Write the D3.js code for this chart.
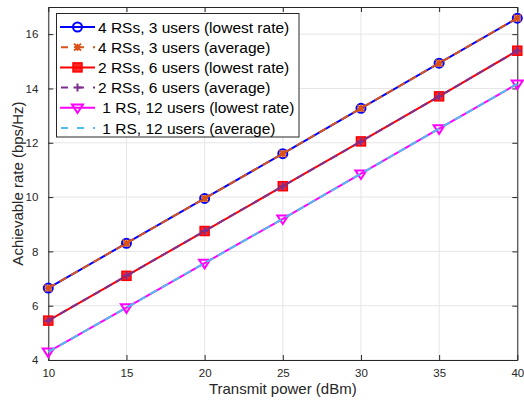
<!DOCTYPE html>
<html>
<head>
<meta charset="utf-8">
<script src="https://cdn.jsdelivr.net/npm/d3@7"></script>
<style>
  html, body { margin: 0; padding: 0; background: #fff; }
  svg { display: block; font-family: "Liberation Sans", Arial, sans-serif; }
</style>
</head>
<body>
<div id="chart"></div>
<script>
// data
const powers = [10, 15, 20, 25, 30, 35, 40];
const rs4Lowest = [6.65, 8.30, 9.95, 11.60, 13.27, 14.93, 16.59];
const rs4Average = [6.65, 8.30, 9.95, 11.60, 13.27, 14.93, 16.59];
const rs2Lowest = [5.45, 7.10, 8.75, 10.40, 12.05, 13.71, 15.39];
const rs2Average = [5.45, 7.10, 8.75, 10.40, 12.05, 13.71, 15.39];
const rs1Lowest = [4.30, 5.93, 7.57, 9.20, 10.86, 12.52, 14.17];
const rs1Average = [4.30, 5.93, 7.57, 9.20, 10.86, 12.52, 14.17];
const seriesNames = [
    "4 RSs, 3 users (lowest rate)",
    "4 RSs, 3 users (average)",
    "2 RSs, 6 users (lowest rate)",
    "2 RSs, 6 users (average)",
    " 1 RS, 12 users (lowest rate)",
    " 1 RS, 12 users (average)"
];
const xTicks = [10, 15, 20, 25, 30, 35, 40];
const yTicks = [4, 6, 8, 10, 12, 14, 16];

const series = [
    { name: seriesNames[0], values: rs4Lowest, color: "#0000ff", dash: null, marker: "circle" },
    { name: seriesNames[1], values: rs4Average, color: "#d95319", dash: "8,5", marker: "asterisk" },
    { name: seriesNames[2], values: rs2Lowest, color: "#ff0000", dash: null, marker: "square" },
    { name: seriesNames[3], values: rs2Average, color: "#7e2f8e", dash: "8,5", marker: "plus" },
    { name: seriesNames[4], values: rs1Lowest, color: "#ff00ff", dash: null, marker: "triangle" },
    { name: seriesNames[5], values: rs1Average, color: "#4dbeee", dash: "8,5", marker: null }
];

const width = 524, height = 403;
const margin = { top: 7, right: 6.7, bottom: 43, left: 48.3 };
const axisColor = "#262626";

const svg = d3.select("#chart").append("svg")
    .attr("width", width)
    .attr("height", height);

const x = d3.scaleLinear().domain([10, 40]).range([margin.left, width - margin.right]);
const y = d3.scaleLinear().domain([4, 17]).range([height - margin.bottom, margin.top]);

// grid
const grid = svg.append("g").attr("stroke", "#e5e5e5").attr("stroke-width", 1);
grid.selectAll("line.gx").data(xTicks).join("line")
    .attr("x1", d => x(d)).attr("x2", d => x(d))
    .attr("y1", y.range()[0]).attr("y2", y.range()[1]);
grid.selectAll("line.gy").data(yTicks).join("line")
    .attr("y1", d => y(d)).attr("y2", d => y(d))
    .attr("x1", x.range()[0]).attr("x2", x.range()[1]);

// axes, ticks pointing inward, box all round
const tickLen = 5;
const axes = [
    svg.append("g").attr("transform", `translate(0,${y.range()[0]})`)
        .call(d3.axisBottom(x).tickValues(xTicks).tickSizeInner(-tickLen).tickSizeOuter(0).tickPadding(9)),
    svg.append("g").attr("transform", `translate(0,${y.range()[1]})`)
        .call(d3.axisTop(x).tickValues(xTicks).tickSizeInner(-tickLen).tickSizeOuter(0).tickFormat("")),
    svg.append("g").attr("transform", `translate(${x.range()[0]},0)`)
        .call(d3.axisLeft(y).tickValues(yTicks).tickSizeInner(-tickLen).tickSizeOuter(0).tickPadding(10)),
    svg.append("g").attr("transform", `translate(${x.range()[1]},0)`)
        .call(d3.axisRight(y).tickValues(yTicks).tickSizeInner(-tickLen).tickSizeOuter(0).tickFormat(""))
];
axes.forEach(a => {
    a.select(".domain").attr("stroke", axisColor).attr("stroke-width", 1);
    a.selectAll(".tick line").attr("stroke", axisColor);
    a.selectAll(".tick text").attr("fill", axisColor).attr("font-size", 11.5)
        .attr("font-family", "Liberation Sans, Arial, sans-serif");
});

// axis labels
svg.append("text")
    .attr("x", (x.range()[0] + x.range()[1]) / 2)
    .attr("y", 394)
    .attr("text-anchor", "middle")
    .attr("font-size", 15)
    .attr("fill", axisColor)
    .text("Transmit power (dBm)");

svg.append("text")
    .attr("transform", `translate(23,${(y.range()[0] + y.range()[1]) / 2}) rotate(-90)`)
    .attr("text-anchor", "middle")
    .attr("font-size", 15)
    .attr("fill", axisColor)
    .text("Achievable rate (bps/Hz)");

function drawMarker(g, type, color, cx, cy) {
    if (type === "circle") {
        g.append("circle").attr("cx", cx).attr("cy", cy).attr("r", 4.5)
            .attr("fill", "none").attr("stroke", color).attr("stroke-width", 2);
    } else if (type === "square") {
        g.append("rect").attr("x", cx - 4.5).attr("y", cy - 4.5).attr("width", 9).attr("height", 9)
            .attr("fill", color).attr("fill-opacity", 0.85).attr("stroke", color).attr("stroke-width", 1.5);
    } else if (type === "triangle") {
        const s = 5.5;
        g.append("path")
            .attr("d", `M${cx - s},${cy - s * 0.6}L${cx + s},${cy - s * 0.6}L${cx},${cy + s * 0.95}Z`)
            .attr("fill", "none").attr("stroke", color).attr("stroke-width", 2);
    } else if (type === "asterisk") {
        const s = 3.5;
        g.append("path")
            .attr("d", `M${cx - s},${cy - s}L${cx + s},${cy + s}M${cx - s},${cy + s}L${cx + s},${cy - s}M${cx - s},${cy}L${cx + s},${cy}M${cx},${cy - s}L${cx},${cy + s}`)
            .attr("stroke", color).attr("stroke-width", 1.8).attr("fill", "none");
    } else if (type === "plus") {
        const s = 4;
        g.append("path")
            .attr("d", `M${cx - s},${cy}L${cx + s},${cy}M${cx},${cy - s}L${cx},${cy + s}`)
            .attr("stroke", color).attr("stroke-width", 2).attr("fill", "none");
    }
}

const line = d3.line().x((d, i) => x(powers[i])).y(d => y(d));
const plot = svg.append("g");
series.forEach(s => {
    const g = plot.append("g");
    g.append("path")
        .attr("d", line(s.values))
        .attr("fill", "none")
        .attr("stroke", s.color)
        .attr("stroke-width", 2)
        .attr("stroke-dasharray", s.dash);
    if (s.marker) {
        s.values.forEach((v, i) => drawMarker(g, s.marker, s.color, x(powers[i]), y(v)));
    }
});

// legend
const legend = svg.append("g");
legend.append("rect")
    .attr("x", 56.5).attr("y", 13.5).attr("width", 242.5).attr("height", 123.5)
    .attr("fill", "#fff").attr("stroke", axisColor).attr("stroke-width", 1);
series.forEach((s, i) => {
    const ly = 27 + i * 20.2;
    legend.append("line")
        .attr("x1", 60).attr("x2", 95).attr("y1", ly).attr("y2", ly)
        .attr("stroke", s.color).attr("stroke-width", 2)
        .attr("stroke-dasharray", s.dash ? "7,9" : null)
        .attr("stroke-dashoffset", s.dash ? -1 : null);
    if (s.marker) drawMarker(legend, s.marker, s.color, 77.5, ly);
    legend.append("text")
        .attr("x", 98).attr("y", ly)
        .attr("dy", "0.36em")
        .attr("font-size", 15.5)
        .attr("fill", "#000")
        .style("white-space", "pre")
        .text(s.name);
});
</script>
</body>
</html>
